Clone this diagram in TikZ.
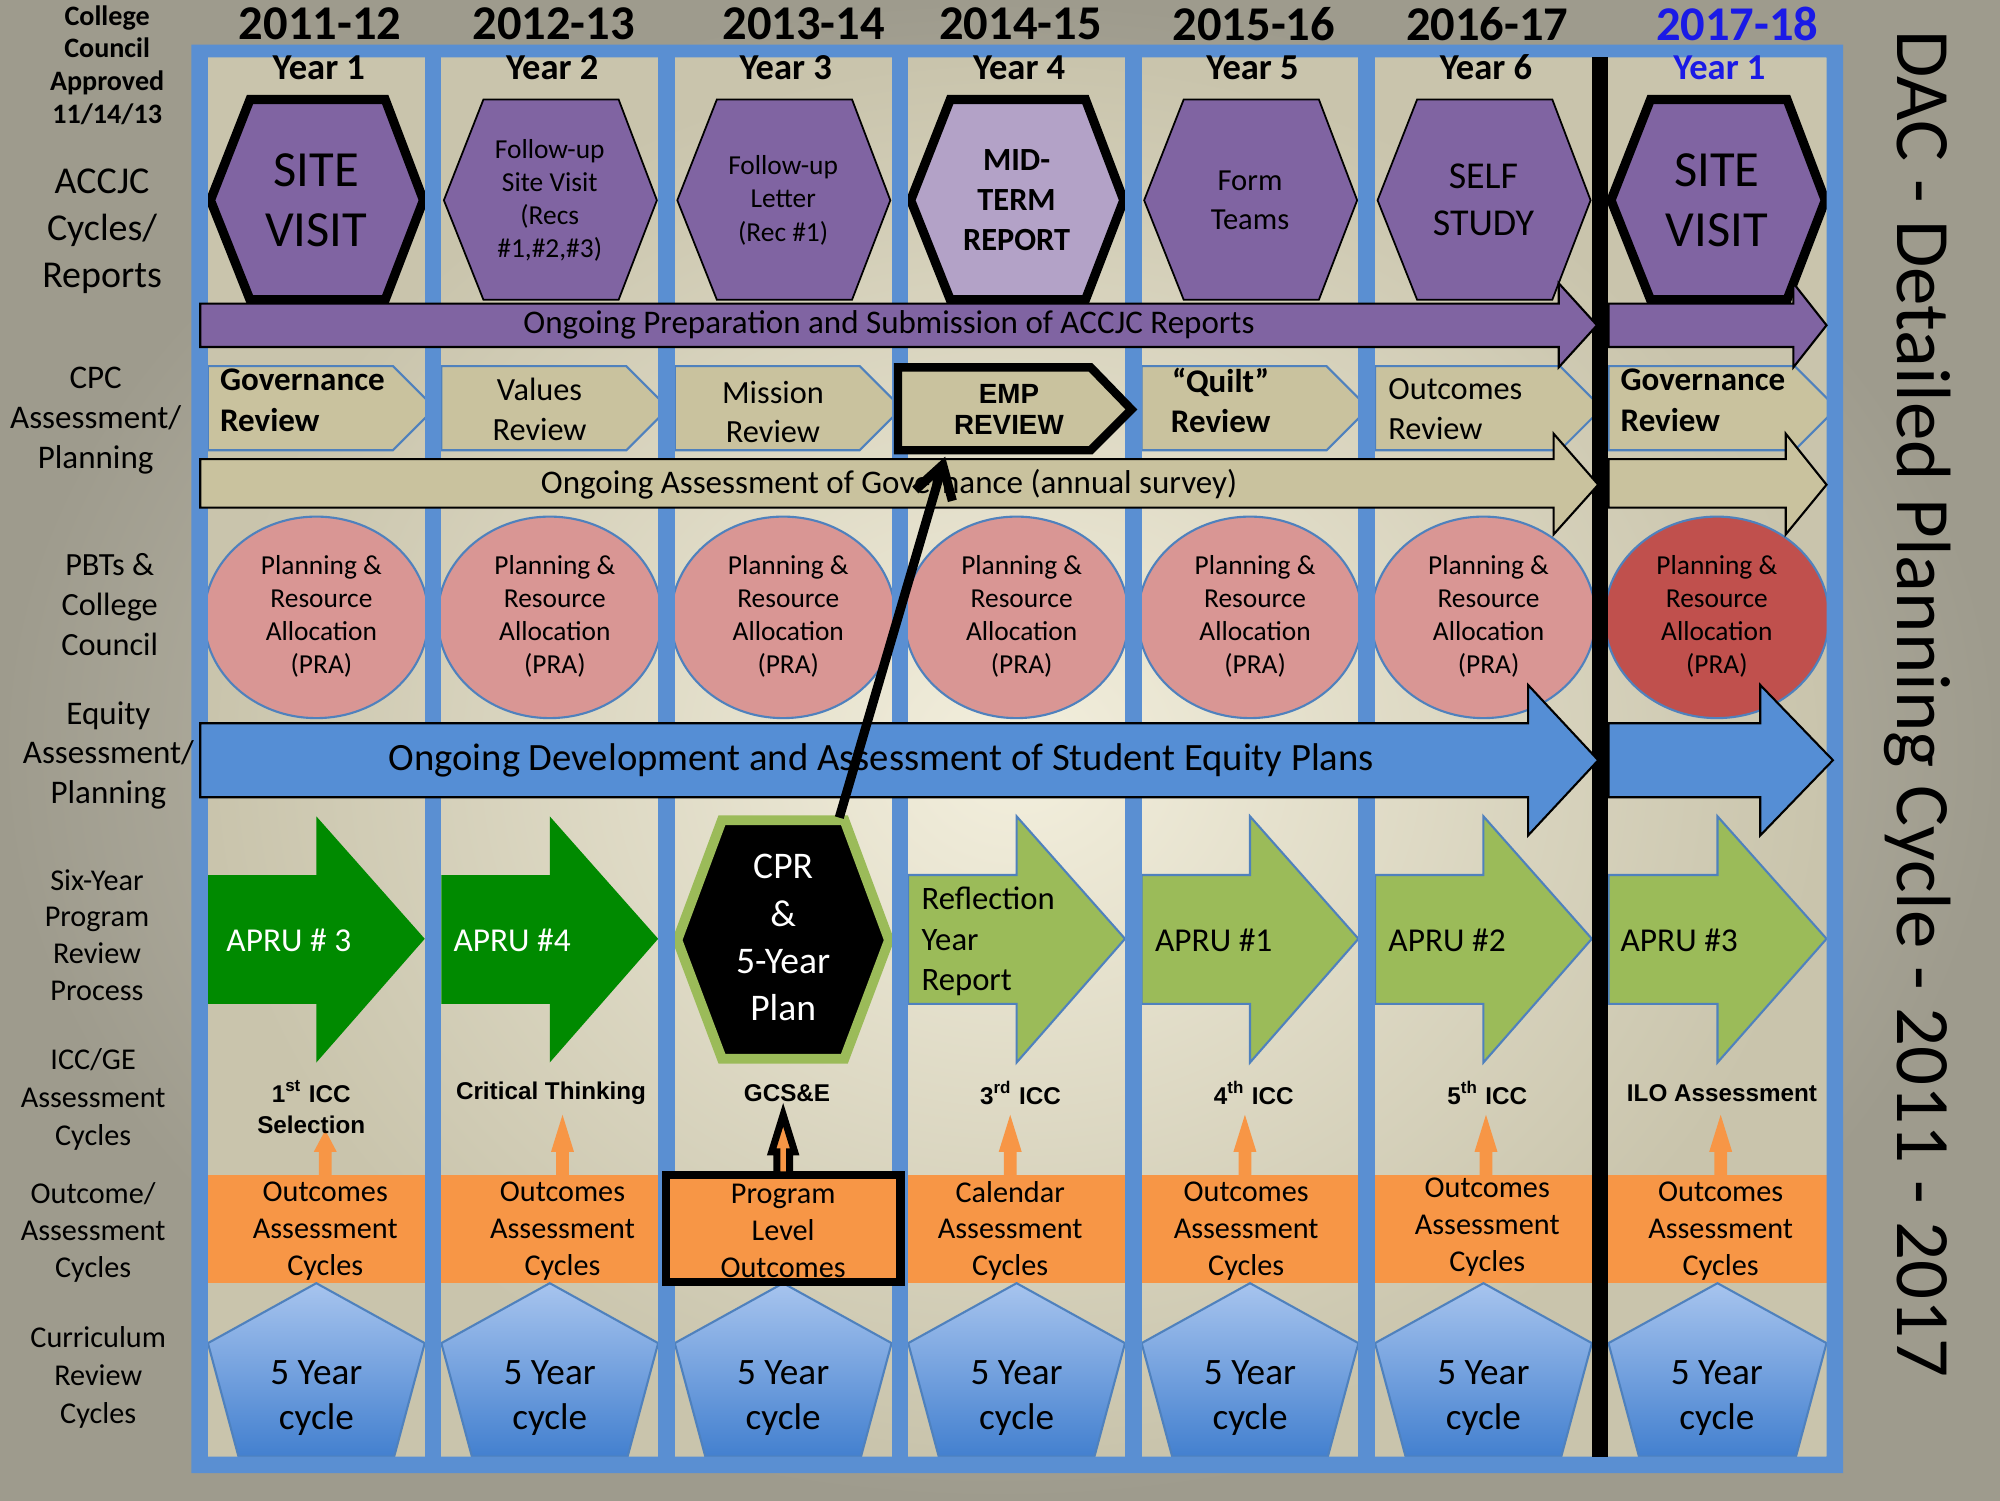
\documentclass[tikz,border=0pt]{standalone}
\usepackage{fontspec}
\setmainfont{Carlito}
\newfontfamily\arialf{Liberation Sans}
\usetikzlibrary{arrows.meta}
\definecolor{slidein}{HTML}{D9D5C3}
\definecolor{slideout}{HTML}{9E9B8D}
\definecolor{colin}{HTML}{F3EFDD}
\definecolor{colout}{HTML}{C9C4AC}
\definecolor{frameblue}{HTML}{5A8FD2}
\definecolor{outlineblue}{HTML}{4F81BD}
\definecolor{accpurple}{HTML}{8064A2}
\definecolor{lightpurple}{HTML}{B3A2C7}
\definecolor{tanc}{HTML}{C9C29E}
\definecolor{pinkpra}{HTML}{D99694}
\definecolor{redpra}{HTML}{C0504D}
\definecolor{equityblue}{HTML}{558ED5}
\definecolor{darkgreen}{HTML}{008A00}
\definecolor{lightgreen}{HTML}{9BBB59}
\definecolor{orangebox}{HTML}{F79646}
\definecolor{pentop}{HTML}{A7C4EE}
\definecolor{penbot}{HTML}{4380CF}
\definecolor{yearblue}{HTML}{1A1AE6}
\newcommand{\fs}[2]{\fontsize{#1}{#2}\selectfont}
\newcommand{\dachex}[2]{(#1+2,157) -- (#1+33,78) -- (#2-31,78) -- (#2-1,157) -- (#2-31,235) -- (#1+33,235) -- cycle}
\newcommand{\dacchev}[2]{(#1,287) -- (#2-25,287) -- (#2+8,320) -- (#2-25,353) -- (#1,353) -- cycle}
\newcommand{\dacgarr}[2]{(#1,686) -- ({(#1+#2)/2},686) -- ({(#1+#2)/2},640) -- (#2,736) -- ({(#1+#2)/2},833) -- ({(#1+#2)/2},787) -- (#1,787) -- cycle}
\newcommand{\dacpent}[2]{({(#1+#2)/2},1006) -- (#2,1053) -- (#2-24,1142) -- (#1+24,1142) -- (#1,1053) -- cycle}
\newcommand{\dacup}[2]{(#1-5,921) -- (#1-5,903) -- (#1-9,903) -- (#1,#2) -- (#1+9,903) -- (#1+5,903) -- (#1+5,921) -- cycle}
\tikzset{
  txt/.style={inner sep=0pt, align=center},
  hexthin/.style={fill=accpurple, draw=black, line width=0.5pt},
  hexthick/.style={fill=accpurple, draw=black, line width=2.6pt},
  chev/.style={fill=tanc, draw=outlineblue, line width=0.6pt},
  pra/.style={fill=pinkpra, draw=outlineblue, line width=0.6pt},
  garrdark/.style={fill=darkgreen},
  garrlight/.style={fill=lightgreen, draw=outlineblue, line width=0.6pt},
  obox/.style={fill=orangebox},
  penta/.style={top color=pentop, bottom color=penbot, draw=outlineblue, line width=0.6pt},
  oarr/.style={fill=orangebox},
  ongoing/.style={draw=black, line width=0.6pt},
  yearhd/.style={inner sep=0pt, font=\bfseries\fs{13.8}{16}},
  yearno/.style={inner sep=0pt, font=\bfseries\fs{10.4}{12}},
  rowlbl/.style={txt},
  pratxt/.style={txt, font=\fs{7.8}{9.4}},
  occ/.style={txt, font=\fs{8.6}{10.5}},
  fiveyr/.style={txt, font=\fs{10.6}{12.7}},
  icc/.style={txt, font=\arialf\bfseries\fs{6.9}{8.7}},
  apru/.style={inner sep=0pt, anchor=west, font=\fs{9.5}{11}},
}
\begin{document}
\begin{tikzpicture}[x=0.012755cm,y=-0.012755cm]
\useasboundingbox (0,0) rectangle (1568,1176);
\shade[inner color=slidein,outer color=slideout] (0,0) rectangle (1568,1176);
\shade[inner color=colin,outer color=colout] (163,45) rectangle (1432,1142);

% ---------- ACCJC hexagons
\filldraw[hexthick] \dachex{163}{333};
\filldraw[hexthin] \dachex{346}{516};
\filldraw[hexthin] \dachex{529}{699};
\filldraw[hexthick, fill=lightpurple] \dachex{712}{882};
\filldraw[hexthin] \dachex{895}{1065};
\filldraw[hexthin] \dachex{1078}{1248};
\filldraw[hexthick] \dachex{1261}{1432};

% ---------- CPC chevrons
\foreach \L/\R in {163/333,346/516,529/699,895/1065,1078/1248,1261/1432}
  \filldraw[chev] \dacchev{\L}{\R};

% ---------- PRA circles
\foreach \c in {248,431,614,797,980,1163}
  \filldraw[pra] (\c,484) ellipse [x radius=88, y radius=79];
\filldraw[pra, fill=redpra] (1346,484) ellipse [x radius=88, y radius=79];

% ---------- Program review arrows
\fill[garrdark] \dacgarr{163}{333};
\fill[garrdark] \dacgarr{346}{516};
\filldraw[garrlight] \dacgarr{712}{882};
\filldraw[garrlight] \dacgarr{895}{1065};
\filldraw[garrlight] \dacgarr{1078}{1248};
\filldraw[garrlight] \dacgarr{1261}{1432};
\filldraw[fill=black, draw=lightgreen, line width=2.8pt] (531,737) -- (566,643) -- (662,643) -- (697,737) -- (662,830) -- (566,830) -- cycle;

% ---------- Outcome boxes and pentagons
\foreach \L/\R in {163/333,346/516,529/699,712/882,895/1065,1078/1248,1261/1432}{
  \fill[obox] (\L,921) rectangle (\R,1006);
  \filldraw[penta] \dacpent{\L}{\R};
}
\foreach \x/\t in {255/886,441/874,792/874,976/874,1165/874,1349/874}
  \fill[oarr] \dacup{\x}{\t};

% ---------- frame and bars
\fill[frameblue, even odd rule] (150,35) rectangle (1445,1155) (163,45) rectangle (1432,1142);
\foreach \x in {333,516,699,882,1065}
  \fill[frameblue] (\x,45) rectangle (\x+13,1142);
\fill[black] (1248,45) rectangle (1261,1142);

% ---------- ongoing arrows
\filldraw[ongoing, fill=accpurple] (157,238) -- (1222,238) -- (1222,222) -- (1252,255) -- (1222,288) -- (1222,272) -- (157,272) -- cycle;
\filldraw[ongoing, fill=accpurple] (1261,238) -- (1406,238) -- (1406,222) -- (1432,255) -- (1406,288) -- (1406,272) -- (1261,272) -- cycle;
\node[txt, font=\fs{9.4}{11}] (prep) at (697,255) {Ongoing Preparation and Submission of ACCJC Reports};

\filldraw[ongoing, fill=tanc] (157,360) -- (1218,360) -- (1218,340) -- (1253,380) -- (1218,419) -- (1218,398) -- (157,398) -- cycle;
\filldraw[ongoing, fill=tanc] (1261,360) -- (1400,360) -- (1400,340) -- (1432,380) -- (1400,419) -- (1400,398) -- (1261,398) -- cycle;
\node[txt, font=\fs{9.4}{11}] (govarr) at (697,380) {Ongoing Assessment of Governance (annual survey)};

\filldraw[ongoing, fill=equityblue] (157,567) -- (1198,567) -- (1198,537) -- (1253,596) -- (1198,655) -- (1198,625) -- (157,625) -- cycle;
\filldraw[ongoing, fill=equityblue] (1261,567) -- (1380,567) -- (1380,537) -- (1437,596) -- (1380,655) -- (1380,625) -- (1261,625) -- cycle;
\node[txt, font=\fs{11}{13}] (equity) at (691,596) {Ongoing Development and Assessment of Student Equity Plans};

% ---------- highlighted items
\filldraw[fill=tanc, draw=black, line width=2.4pt] (704,288) -- (855,288) -- (887,321) -- (855,353) -- (704,353) -- cycle;
\filldraw[fill=orangebox, draw=black, line width=2.4pt] (522,921) rectangle (706,1005);
\filldraw[fill=orangebox, draw=black, line width=2pt] \dacup{614}{874};

% ---------- header
\node[yearhd] (h1) at (251,19) {2011-12};
\node[yearhd] (h2) at (434,19) {2012-13};
\node[yearhd] (h3) at (630,19) {2013-14};
\node[yearhd] (h4) at (800,19) {2014-15};
\node[yearhd] (h5) at (983,19) {2015-16};
\node[yearhd] (h6) at (1166,19) {2016-17};
\node[yearhd, text=yearblue] (h7) at (1362,19) {2017-18};
\node[yearno] (yr1) at (250,53) {Year 1};
\node[yearno] (yr2) at (433,53) {Year 2};
\node[yearno] (yr3) at (616,53) {Year 3};
\node[yearno] (yr4) at (799,53) {Year 4};
\node[yearno] (yr5) at (982,53) {Year 5};
\node[yearno] (yr6) at (1165,53) {Year 6};
\node[yearno, text=yearblue] (yr7) at (1348,53) {Year 1};

% ---------- left labels
\node[rowlbl, font=\bfseries\fs{8}{9.3}] (approved) at (84,51) {College\\Council\\Approved\\11/14/13};
\node[rowlbl, font=\fs{10.8}{13.4}] (lacc) at (80,181) {ACCJC\\Cycles/\\Reports};
\node[rowlbl, font=\fs{9.4}{11.4}] (lcpc) at (75,330) {CPC\\Assessment/\\Planning};
\node[rowlbl, font=\fs{9.2}{11.25}] (lpbt) at (86,474) {PBTs \&\\College\\Council};
\node[rowlbl, font=\fs{9.4}{11.25}] (lequ) at (85,592) {Equity\\Assessment/\\Planning};
\node[rowlbl, font=\fs{8.6}{10.4}] (lsix) at (76,733) {Six-Year\\Program\\Review\\Process};
\node[rowlbl, font=\fs{8.6}{10.7}] (licc) at (73,862) {ICC/GE\\Assessment\\Cycles};
\node[rowlbl, font=\fs{8.6}{10.5}] (lout) at (73,966) {Outcome/\\Assessment\\Cycles};
\node[rowlbl, font=\fs{8.6}{10.9}] (lcur) at (77,1080) {Curriculum\\Review\\Cycles};

% ---------- hexagon texts
\node[txt, font=\fs{14.4}{17}] (site1) at (248,157) {SITE\\VISIT};
\node[txt, font=\fs{7.8}{9.4}] (fus) at (431,157) {Follow-up\\Site Visit\\(Recs\\\#1,\#2,\#3)};
\node[txt, font=\fs{7.8}{9.6}] (ful) at (614,157) {Follow-up\\Letter\\(Rec \#1)};
\node[txt, font=\bfseries\fs{9.2}{11.3}] (mid) at (797,157) {MID-\\TERM\\REPORT};
\node[txt, font=\fs{8.7}{11.2}] (form) at (980,157) {Form\\Teams};
\node[txt, font=\fs{10.8}{13.4}] (self) at (1163,157) {SELF\\STUDY};
\node[txt, font=\fs{14.4}{17}] (site7) at (1346,157) {SITE\\VISIT};

% ---------- CPC texts
\node[txt, align=left, anchor=west, font=\bfseries\fs{9.4}{11.6}] (gov1) at (172,314) {Governance\\Review};
\node[txt, font=\fs{9.2}{11.3}] (val) at (423,321) {Values\\Review};
\node[txt, font=\fs{9.2}{11.3}] (mis) at (606,323) {Mission\\Review};
\node[txt, font=\arialf\bfseries\fs{7.9}{9}] (emp) at (791,321) {EMP\\REVIEW};
\node[txt, font=\bfseries\fs{9.4}{11.6}] (quilt) at (957,314) {“Quilt”\\Review};
\node[txt, align=left, anchor=west, font=\fs{9.2}{11.3}] (outrev) at (1088,321) {Outcomes\\Review};
\node[txt, align=left, anchor=west, font=\bfseries\fs{9.4}{11.6}] (gov7) at (1270,314) {Governance\\Review};

% ---------- PRA texts
\foreach \c/\n in {252/1,435/2,618/3,801/4,984/5,1167/6,1346/7}
  \node[pratxt] (pra\n) at (\c,483) {Planning \&\\Resource\\Allocation\\(PRA)};

% ---------- program review texts
\node[apru, text=white] (apru3a) at (177,737) {APRU \# 3};
\node[apru, text=white] (apru4) at (355,737) {APRU \#4};
\node[txt, text=white, font=\fs{10.7}{13.4}] (cpr) at (614,735) {CPR\\\&\\5-Year\\Plan};
\node[txt, align=left, anchor=west, font=\fs{9.3}{11.5}] (refl) at (722,738) {Reflection\\Year\\Report};
\node[apru] (apru1) at (905,737) {APRU \#1};
\node[apru] (apru2) at (1088,737) {APRU \#2};
\node[apru] (apru3b) at (1270,737) {APRU \#3};

% ---------- ICC texts
\node[icc] (icc1) at (244,868) {1\textsuperscript{st} ICC\\Selection};
\node[icc] (icc2) at (432,857) {Critical Thinking};
\node[icc] (icc3) at (617,857) {GCS\&E};
\node[icc] (icc4) at (800,857) {3\textsuperscript{rd} ICC};
\node[icc] (icc5) at (983,857) {4\textsuperscript{th} ICC};
\node[icc] (icc6) at (1166,857) {5\textsuperscript{th} ICC};
\node[icc] (icc7) at (1350,857) {ILO Assessment};

% ---------- outcome texts
\node[occ] (oc1) at (255,965) {Outcomes\\Assessment\\Cycles};
\node[occ] (oc2) at (441,965) {Outcomes\\Assessment\\Cycles};
\node[occ] (oc3) at (614,965) {Program\\Level\\Outcomes};
\node[occ] (oc4) at (792,965) {Calendar\\Assessment\\Cycles};
\node[occ] (oc5) at (977,965) {Outcomes\\Assessment\\Cycles};
\node[occ] (oc6) at (1166,962) {Outcomes\\Assessment\\Cycles};
\node[occ] (oc7) at (1349,965) {Outcomes\\Assessment\\Cycles};

% ---------- curriculum texts
\foreach \c/\n in {248/1,431/2,614/3,797/4,980/5,1163/6,1346/7}
  \node[fiveyr] (cur\n) at (\c,1096) {5 Year\\cycle};

% ---------- connector CPR -> EMP
\coordinate (cprtop) at (658,641);
\coordinate (empbot) at (741,358);
\draw[line width=2.6pt, -{Straight Barb[length=9pt,width=11pt]}] (cprtop) -- (empbot);

% ---------- title
\node[inner sep=0pt, rotate=-90, font=\fs{21.9}{26}] (title) at (1503,552) {DAC - Detailed Planning Cycle - 2011 - 2017};
\end{tikzpicture}
\end{document}
